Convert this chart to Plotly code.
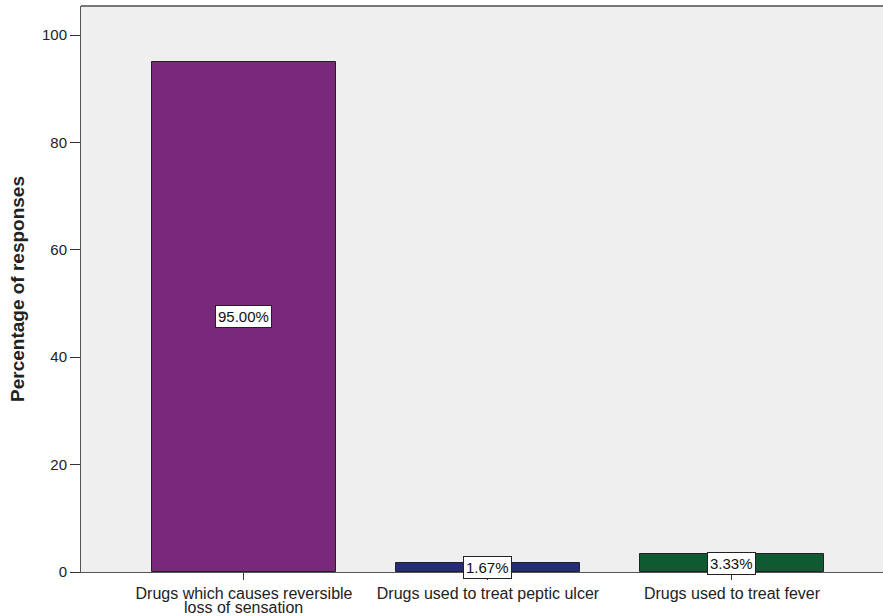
import plotly.graph_objects as go

categories = ["Drugs which causes reversible",
              "Drugs used to treat peptic ulcer",
              "Drugs used to treat fever"]
category_second_line = ["loss of sensation", "", ""]
values = [95.00, 1.67, 3.33]
labels = ["95.00%", "1.67%", "3.33%"]
colors = ["#79287A", "#262B7A", "#0F5A32"]
y_ticks = [0, 20, 40, 60, 80, 100]

FONT = "Liberation Sans, Arial, sans-serif"

fig = go.Figure()
fig.add_trace(go.Bar(
    x=list(range(len(categories))), y=values,
    marker=dict(color=colors, line=dict(color="#222222", width=1)),
    width=0.754, showlegend=False, hoverinfo="skip"))

for i, (v, t) in enumerate(zip(values, labels)):
    fig.add_annotation(x=i, y=v / 2, text=t, showarrow=False,
                       font=dict(family=FONT, size=15, color="#111111"),
                       bgcolor="white", bordercolor="#222222", borderwidth=1, borderpad=2)

for i, t in enumerate(category_second_line):
    if t:
        fig.add_annotation(x=i, y=0, yref="paper", yanchor="middle", yshift=-35,
                           text=t, showarrow=False,
                           font=dict(family=FONT, size=16, color="#222222"))

fig.update_layout(
    width=883, height=616,
    margin=dict(l=81, r=0, t=6, b=44),
    paper_bgcolor="white", plot_bgcolor="#EFEFEF",
    font=dict(family=FONT, size=15, color="#222222"),
    bargap=0,
)
fig.update_xaxes(
    range=[-0.668, 2.619], tickmode="array",
    tickvals=list(range(len(categories))), ticktext=categories,
    ticks="outside", ticklen=7, tickcolor="#333333",
    showline=True, linecolor="#555555", linewidth=1,
    showgrid=False, zeroline=False, tickfont=dict(size=16), tickangle=0,
)
fig.update_yaxes(
    range=[0, 105.4], tickvals=y_ticks,
    ticks="outside", ticklen=10, tickcolor="#333333",
    showline=True, linecolor="#555555", linewidth=1, mirror=False,
    showgrid=False, zeroline=False, tickfont=dict(size=15),
    title=dict(text="<b>Percentage of responses</b>", font=dict(size=19), standoff=12),
)
fig.add_shape(type="line", xref="paper", yref="paper", x0=0, x1=1, y0=1, y1=1,
              line=dict(color="#777777", width=2))
fig.write_html("out.html", config={"displayModeBar": False},
               post_script="document.body.style.margin='0px';document.body.style.overflow='hidden';")
